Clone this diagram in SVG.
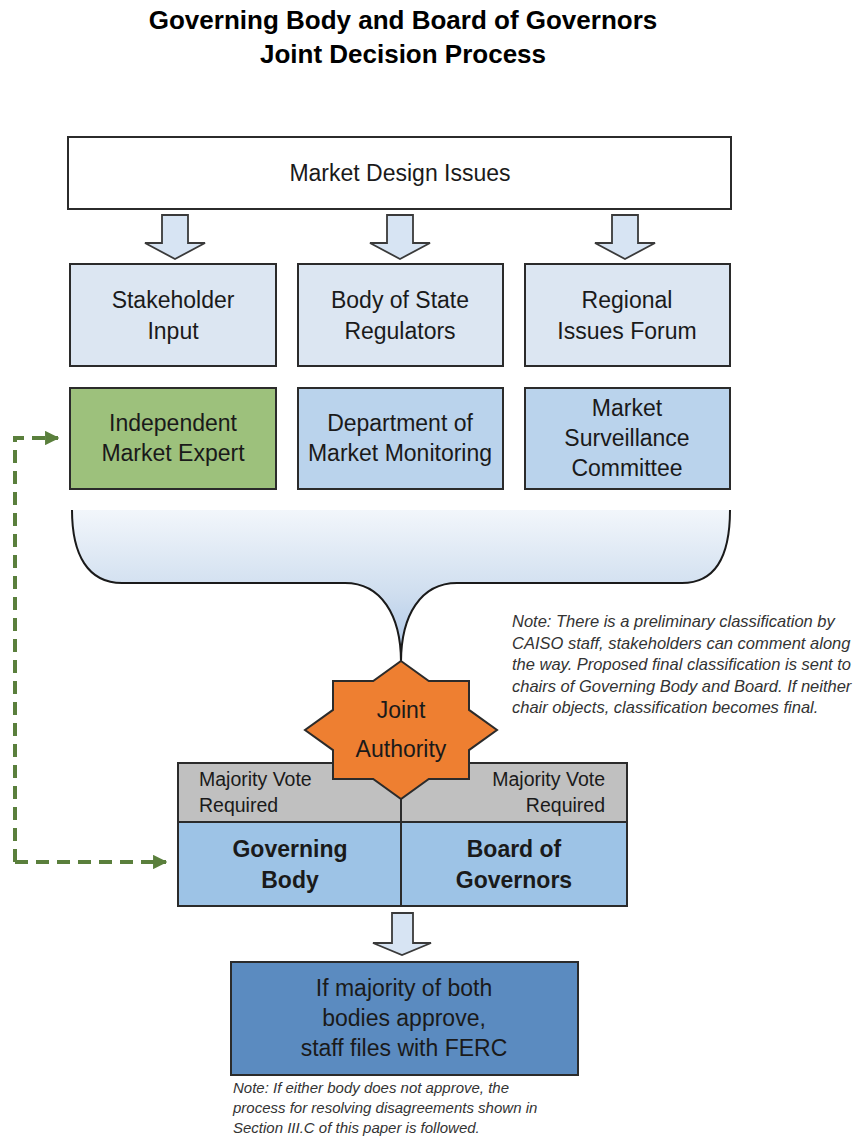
<svg xmlns="http://www.w3.org/2000/svg" width="860" height="1139" viewBox="0 0 860 1139">
<defs>
<linearGradient id="fun" x1="0" y1="0" x2="0" y2="1">
<stop offset="0" stop-color="#f2f6fb"/>
<stop offset="0.55" stop-color="#cfdeef"/>
<stop offset="1" stop-color="#a9c4e6"/>
</linearGradient>
<marker id="ga" viewBox="0 0 10 10" refX="9" refY="5" markerWidth="3.6" markerHeight="3.6" orient="auto" markerUnits="strokeWidth">
<path d="M0,0 L10,5 L0,10 z" fill="#5a7f3c"/>
</marker>
<path id="barrow" d="M-13,0 L13,0 L13,28 L30,28 L0,44 L-30,28 L-13,28 z"/>
</defs>
<style>
text{font-family:"Liberation Sans",Arial,sans-serif;fill:#1a1a1a}
.t{font-size:23px;text-anchor:middle}
.title{font-size:26px;font-weight:bold;text-anchor:middle;fill:#000}
.b{font-size:23px;font-weight:bold;text-anchor:middle}
.v{font-size:19.5px}
.note{font-size:16.5px;font-style:italic;fill:#333}
.note2{font-size:15px;font-style:italic;fill:#333}
.box{stroke:#2b2b2b;stroke-width:2}
.arr{fill:#d7e4f3;stroke:#3a3a3a;stroke-width:1.8}
.dash{fill:none;stroke:#5a7f3c;stroke-width:4;stroke-dasharray:13 8}
</style>
<rect width="860" height="1139" fill="#fff"/>
<g id="title">
<text class="title" x="403" y="29">Governing Body and Board of Governors</text>
<text class="title" x="403" y="63">Joint Decision Process</text>
</g>
<g id="market-design">
<rect class="box" x="68" y="137" width="663" height="72" fill="#fff"/>
<text class="t" x="400" y="181">Market Design Issues</text>
</g>
<g id="connectors">
<use href="#barrow" class="arr" x="175" y="215"/>
<use href="#barrow" class="arr" x="400" y="215"/>
<use href="#barrow" class="arr" x="625" y="215"/>
<path d="M392,913 L413,913 L413,943 L431,943 L402,955 L373,943 L392,943 z" class="arr"/>
<path class="dash" d="M15,862 L15,438 L58,438" marker-end="url(#ga)"/>
<path class="dash" d="M15,862 L166,862" marker-end="url(#ga)"/>
</g>
<g id="stakeholder">
<rect class="box" x="70" y="264" width="206" height="102" fill="#dce6f2"/>
<text class="t" x="173" y="308">Stakeholder</text>
<text class="t" x="173" y="339">Input</text>
</g>
<g id="body-state">
<rect class="box" x="298" y="264" width="205" height="102" fill="#dce6f2"/>
<text class="t" x="400" y="308">Body of State</text>
<text class="t" x="400" y="339">Regulators</text>
</g>
<g id="regional">
<rect class="box" x="525" y="264" width="205" height="102" fill="#dce6f2"/>
<text class="t" x="627" y="308">Regional</text>
<text class="t" x="627" y="339">Issues Forum</text>
</g>
<g id="ime">
<rect class="box" x="70" y="388" width="206" height="101" fill="#9dc17c"/>
<text class="t" x="173" y="431">Independent</text>
<text class="t" x="173" y="461">Market Expert</text>
</g>
<g id="dmm">
<rect class="box" x="298" y="388" width="205" height="101" fill="#bad3ec"/>
<text class="t" x="400" y="431">Department of</text>
<text class="t" x="400" y="461">Market Monitoring</text>
</g>
<g id="msc">
<rect class="box" x="525" y="388" width="205" height="101" fill="#bad3ec"/>
<text class="t" x="627" y="416">Market</text>
<text class="t" x="627" y="446">Surveillance</text>
<text class="t" x="627" y="476">Committee</text>
</g>
<g id="funnel">
<path d="M72,510 C72,555 88,583 122,583 L345,583 C381,583 401,615 401,662 C401,615 421,583 457,583 L682,583 C716,583 730,555 730,510 Z" fill="url(#fun)" stroke="none"/>
<path d="M72,510 C72,555 88,583 122,583 L345,583 C381,583 401,615 401,662 C401,615 421,583 457,583 L682,583 C716,583 730,555 730,510" fill="none" stroke="#1a1a1a" stroke-width="2"/>
</g>
<g id="note1">
<text class="note" x="512" y="627">Note:  There is a preliminary classification by</text>
<text class="note" x="512" y="648.5">CAISO staff, stakeholders can comment along</text>
<text class="note" x="512" y="670">the way. Proposed final classification is sent to</text>
<text class="note" x="512" y="691.5">chairs of Governing Body and Board.  If neither</text>
<text class="note" x="512" y="713">chair objects, classification becomes final.</text>
</g>
<g id="vote">
<rect class="box" x="178" y="763" width="449" height="59" fill="#c0c0c0"/>
<line x1="401" y1="763" x2="401" y2="822" stroke="#2b2b2b" stroke-width="2"/>
<text class="v" x="199" y="786">Majority Vote</text>
<text class="v" x="199" y="812">Required</text>
<text class="v" x="605" y="786" text-anchor="end">Majority Vote</text>
<text class="v" x="605" y="812" text-anchor="end">Required</text>
</g>
<g id="governing-body">
<rect class="box" x="178" y="822" width="223" height="84" fill="#9dc3e6"/>
<text class="b" x="290" y="857">Governing</text>
<text class="b" x="290" y="888">Body</text>
</g>
<g id="board-governors">
<rect class="box" x="401" y="822" width="226" height="84" fill="#9dc3e6"/>
<text class="b" x="514" y="857">Board of</text>
<text class="b" x="514" y="888">Governors</text>
</g>
<g id="joint-authority">
<polygon points="401,661 428.8,681 469,681 469,709.9 497,730 469,750.1 469,779 428.8,779 401,799 373.2,779 333,779 333,750.1 305,730 333,709.9 333,681 373.2,681" fill="#ee7f31" stroke="#2b2b2b" stroke-width="2"/>
<text class="t" x="401" y="718">Joint</text>
<text class="t" x="401" y="757">Authority</text>
</g>
<g id="result">
<rect class="box" x="231" y="962" width="347" height="113" fill="#5b8bc0"/>
<text class="t" x="404" y="996">If majority of both</text>
<text class="t" x="404" y="1026">bodies approve,</text>
<text class="t" x="404" y="1056">staff files with FERC</text>
</g>
<g id="note2">
<text class="note2" x="233" y="1093">Note: If either body does not approve, the</text>
<text class="note2" x="233" y="1113">process for resolving disagreements shown in</text>
<text class="note2" x="233" y="1133">Section III.C of this paper is followed.</text>
</g>
</svg>
